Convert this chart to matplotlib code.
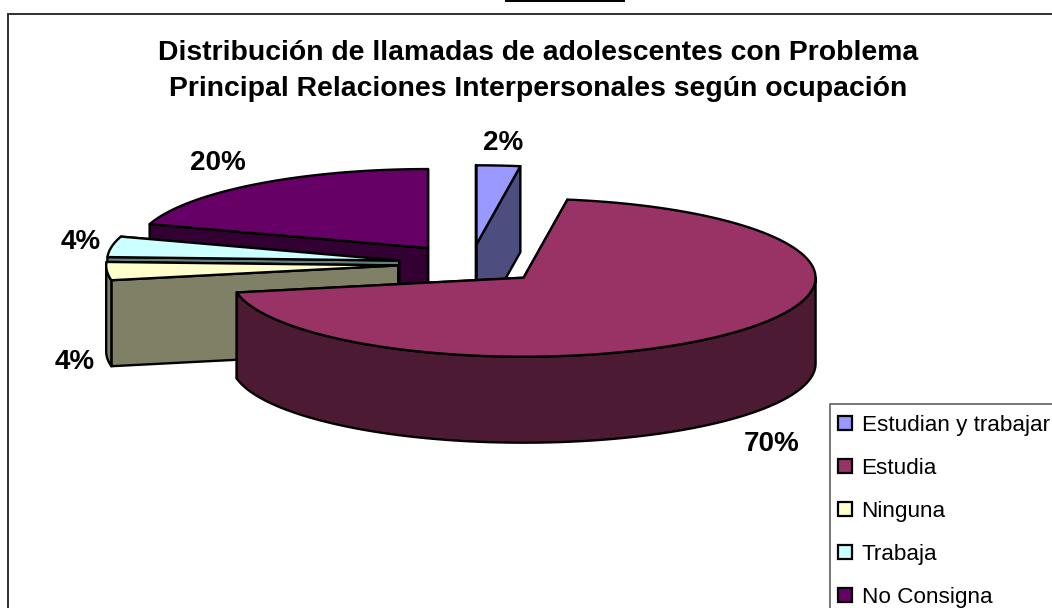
import numpy as np
import matplotlib
matplotlib.use("Agg")
import matplotlib.pyplot as plt
from matplotlib.lines import Line2D
from matplotlib.patches import Rectangle

plt.rcParams["font.family"] = ["Liberation Sans", "DejaVu Sans"]

# Data
categories = ["Estudian y trabajar", "Estudia", "Ninguna", "Trabaja", "No Consigna"]
values = [2.4, 69.6, 3.7, 4.2, 20.1]
title = ("Distribución de llamadas de adolescentes con Problema\n"
         "Principal Relaciones Interpersonales según ocupación")

# Colours, top face and darker side
top_colors = ["#9999FF", "#993366", "#FFFFCC", "#CCFFFF", "#660066"]
side_colors = ["#4D4D80", "#4D1A33", "#808066", "#668080", "#330033"]

# Pie geometry in pixels
cx, cy = 471, 264
rx, ry = 292, 79
depth = 86
explode = 0.25
draw_order = [4, 3, 2, 0, 1]
label_pos = [(503, 143), (772, 444), (75, 362), (81, 242), (218, 163)]

fig = plt.figure(figsize=(10.52, 6.08), dpi=100)
ax = fig.add_axes([0, 0, 1, 1])
ax.set_xlim(0, 1052)
ax.set_ylim(608, 0)
ax.axis("off")

# Chart frame and the bit of black line at the top
ax.add_patch(Rectangle((8, 14), 1100, 700, fc="white", ec="#303030", lw=1.4))
ax.add_patch(Rectangle((505, -2), 120, 4, fc="black", ec="none"))


def point(ox, oy, theta):
    return ox + rx * np.sin(theta), oy - ry * np.cos(theta)


edges = np.radians(np.concatenate([[0], np.cumsum(values)]) * 3.6)

for i in draw_order:
    start, end = edges[i], edges[i + 1]
    mid = (start + end) / 2
    ox = cx + explode * rx * np.sin(mid)
    oy = cy - explode * ry * np.cos(mid)

    # cut faces, the start one goes on top
    for a in (end, start):
        px, py = point(ox, oy, a)
        ax.fill([ox, px, px, ox], [oy, py, py + depth, oy + depth],
                fc=side_colors[i], ec="black", lw=1.7, joinstyle="round")

    # outer wall, only the part that faces us
    w0, w1 = max(start, np.pi / 2), min(end, 3 * np.pi / 2)
    if w1 > w0:
        t = np.linspace(w0, w1, 120)
        wx, wy = point(ox, oy, t)
        ax.fill(np.r_[wx, wx[::-1]], np.r_[wy, wy[::-1] + depth],
                fc=side_colors[i], ec="black", lw=1.7, joinstyle="round")

    # top face
    t = np.linspace(start, end, 120)
    tx, ty = point(ox, oy, t)
    ax.fill(np.r_[ox, tx], np.r_[oy, ty], fc=top_colors[i], ec="black",
            lw=1.7, joinstyle="round")

ax.text(538, 71, title, ha="center", va="center", fontsize=20.4,
        fontweight="bold", linespacing=1.5)

for v, (x, y) in zip(values, label_pos):
    ax.text(x, y, f"{v:.0f}%", ha="center", va="center", fontsize=20,
            fontweight="bold")

handles = [Line2D([], [], ls="none", marker="s", ms=9.5, mfc=c, mec="black",
                  mew=1.6) for c in top_colors]
leg = ax.legend(handles, categories, loc="upper left",
                bbox_to_anchor=(830, 404), bbox_transform=ax.transData,
                fontsize=16.2, fancybox=False, framealpha=1, edgecolor="#606060",
                borderpad=0.5, labelspacing=0.97, handlelength=0.3,
                handletextpad=0.6, borderaxespad=0)
leg.get_frame().set_linewidth(1.2)

fig.savefig("out.png", dpi=100)
plt.close()
